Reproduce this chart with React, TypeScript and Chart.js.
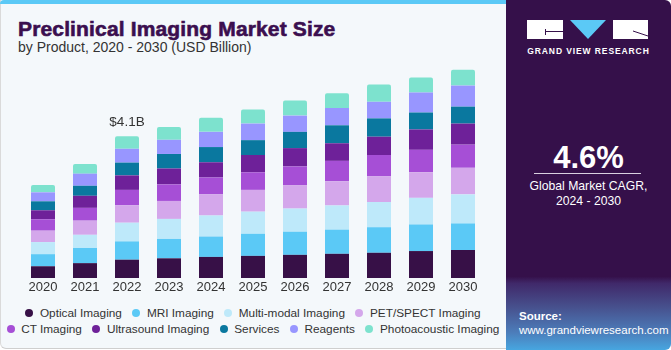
import React, { useEffect, useRef } from "react";
import { Chart, registerables } from "chart.js";

Chart.register(...registerables);

const years = ["2020", "2021", "2022", "2023", "2024", "2025", "2026", "2027", "2028", "2029", "2030"];

const seriesNames = [
  "Optical Imaging",
  "MRI Imaging",
  "Multi-modal Imaging",
  "PET/SPECT Imaging",
  "CT Imaging",
  "Ultrasound Imaging",
  "Services",
  "Reagents",
  "Photoacoustic Imaging",
];

const opticalImaging = [0.34, 0.43, 0.53, 0.57, 0.61, 0.64, 0.67, 0.70, 0.73, 0.78, 0.81];
const mriImaging = [0.35, 0.44, 0.53, 0.56, 0.59, 0.64, 0.67, 0.70, 0.74, 0.77, 0.77];
const multiModalImaging = [0.35, 0.38, 0.54, 0.58, 0.61, 0.64, 0.67, 0.70, 0.73, 0.77, 0.84];
const petSpectImaging = [0.33, 0.41, 0.51, 0.52, 0.61, 0.63, 0.67, 0.70, 0.75, 0.74, 0.77];
const ctImaging = [0.33, 0.37, 0.44, 0.48, 0.49, 0.51, 0.55, 0.59, 0.61, 0.65, 0.67];
const ultrasoundImaging = [0.26, 0.35, 0.42, 0.46, 0.44, 0.50, 0.53, 0.51, 0.53, 0.59, 0.61];
const services = [0.26, 0.29, 0.37, 0.42, 0.44, 0.43, 0.47, 0.52, 0.53, 0.49, 0.49];
const reagents = [0.26, 0.35, 0.40, 0.41, 0.44, 0.48, 0.47, 0.50, 0.48, 0.58, 0.61];
const photoacousticImaging = [0.21, 0.28, 0.36, 0.37, 0.41, 0.41, 0.44, 0.43, 0.50, 0.43, 0.46];

const seriesValues = [
  opticalImaging,
  mriImaging,
  multiModalImaging,
  petSpectImaging,
  ctImaging,
  ultrasoundImaging,
  services,
  reagents,
  photoacousticImaging,
];

const seriesColors = [
  "#371047",
  "#5BC9F6",
  "#BEE9FA",
  "#D4A7EB",
  "#A64FD6",
  "#6E2199",
  "#0A789F",
  "#9896FF",
  "#7DE2CE",
];

const annotatedYear = "2022";
const annotatedLabel = "$4.1B";

const FONT = '"Liberation Sans", Arial, sans-serif';

const totalLabelPlugin = {
  id: "totalLabel",
  afterDatasetsDraw(chart: any) {
    const idx = chart.data.labels.indexOf(annotatedYear);
    if (idx < 0) return;
    let total = 0;
    chart.data.datasets.forEach((ds: any) => (total += ds.data[idx]));
    const x = chart.scales.x.getPixelForValue(idx);
    const y = chart.scales.y.getPixelForValue(total);
    const ctx = chart.ctx;
    ctx.save();
    ctx.font = `13.5px ${FONT}`;
    ctx.fillStyle = "#333333";
    ctx.textAlign = "center";
    ctx.textBaseline = "middle";
    ctx.fillText(annotatedLabel, x, y - 14);
    ctx.restore();
  },
};

function Logo() {
  return (
    <svg width="122" height="20" viewBox="0 0 122 20" style={{ display: "block" }}>
      <rect x="0" y="0" width="36" height="19" fill="#ffffff" />
      <line x1="18" y1="11.5" x2="36" y2="11.5" stroke="#35104A" strokeWidth="1" />
      <line x1="18.5" y1="9" x2="18.5" y2="15" stroke="#35104A" strokeWidth="1" />
      <polygon points="43,0 79,0 61,19" fill="#5BC9F6" />
      <rect x="86" y="0" width="35" height="19" fill="#ffffff" />
      <line x1="106" y1="11" x2="121" y2="16" stroke="#35104A" strokeWidth="1" />
    </svg>
  );
}

export default function App() {
  const canvasRef = useRef<HTMLCanvasElement | null>(null);

  useEffect(() => {
    if (!canvasRef.current) return;
    const chart = new Chart(canvasRef.current, {
      type: "bar",
      data: {
        labels: years,
        datasets: seriesNames.map((name, i) => ({
          label: name,
          data: seriesValues[i],
          backgroundColor: seriesColors[i],
          borderWidth: 0,
          borderRadius: 2,
          barPercentage: 0.8,
          categoryPercentage: 0.714,
        })),
      },
      options: {
        responsive: false,
        animation: false,
        layout: { padding: { left: 22, right: 22, top: 60, bottom: 0 } },
        plugins: {
          legend: { display: false },
          tooltip: { enabled: false },
        },
        scales: {
          x: {
            stacked: true,
            grid: { display: false, drawTicks: false },
            border: { display: false },
            ticks: {
              color: "#333333",
              font: { family: FONT, size: 13 },
              padding: 2,
            },
            afterFit: (scale: any) => {
              scale.height = 22;
            },
          },
          y: {
            stacked: true,
            display: false,
            min: 0,
            max: 6.31,
          },
        },
      },
      plugins: [totalLabelPlugin],
    });
    return () => chart.destroy();
  }, []);

  const legendRows = [
    [0, 1, 2, 3],
    [4, 5, 6, 7, 8],
  ];

  return (
    <div
      style={{
        position: "fixed",
        left: 0,
        top: 0,
        width: 671,
        height: 350,
        overflow: "hidden",
        fontFamily: FONT,
        background: "#ffffff",
      }}
    >
      <div
        style={{
          position: "absolute",
          left: 0,
          top: 0,
          width: 506,
          height: 349,
          background: "#F4F8FB",
          borderBottom: "1px solid #CFCFCF",
          borderLeft: "1px solid #DADADA",
          borderBottomLeftRadius: 6,
          boxSizing: "border-box",
        }}
      />
      <div
        style={{
          position: "absolute",
          left: 0,
          top: 0,
          width: 506,
          height: 4,
          background: "#5BC9F6",
          borderTopLeftRadius: 4,
        }}
      />
      <div
        style={{
          position: "absolute",
          left: 18,
          top: 17,
          fontSize: 21,
          fontWeight: 700,
          color: "#3B0F4F",
          whiteSpace: "nowrap",
          WebkitTextStroke: "0.6px #3B0F4F",
          letterSpacing: 0.15,
          lineHeight: "24px",
        }}
      >
        Preclinical Imaging Market Size
      </div>
      <div
        style={{
          position: "absolute",
          left: 18,
          top: 39,
          fontSize: 14,
          color: "#333333",
          whiteSpace: "nowrap",
          lineHeight: "16px",
        }}
      >
        by Product, 2020 - 2030 (USD Billion)
      </div>

      <canvas
        ref={canvasRef}
        width={506}
        height={300}
        style={{ position: "absolute", left: 0, top: 0, width: 506, height: 300 }}
      />

      {legendRows.map((row, r) => (
        <div
          key={r}
          style={{
            position: "absolute",
            left: 0,
            width: 506,
            top: r === 0 ? 305 : 321,
            height: 16,
            display: "flex",
            justifyContent: "center",
            alignItems: "center",
            fontSize: 11.8,
            color: "#333333",
            whiteSpace: "nowrap",
          }}
        >
          {row.map((i, k) => (
            <div
              key={i}
              style={{ display: "flex", alignItems: "center", marginLeft: k === 0 ? 0 : 10.5 }}
            >
              <span
                style={{
                  width: 8,
                  height: 8,
                  borderRadius: 4,
                  background: seriesColors[i],
                  display: "inline-block",
                  marginRight: 6.5,
                }}
              />
              <span>{seriesNames[i]}</span>
            </div>
          ))}
        </div>
      ))}

      <div
        style={{
          position: "absolute",
          left: 506,
          top: 0,
          width: 165,
          height: 350,
          background:
            "linear-gradient(to bottom, #35104A 0%, #35104A 79%, #40296A 81%, #47528F 88%, #4C7DBA 95%, #47A6E0 100%)",
          borderTopRightRadius: 6,
          borderBottomRightRadius: 6,
        }}
      />
      <div style={{ position: "absolute", left: 527, top: 20 }}>
        <Logo />
      </div>
      <div
        style={{
          position: "absolute",
          left: 506,
          width: 165,
          top: 45,
          textAlign: "center",
          fontSize: 8.5,
          fontWeight: 700,
          color: "#ffffff",
          letterSpacing: 0.9,
          lineHeight: "12px",
          whiteSpace: "nowrap",
        }}
      >
        GRAND VIEW RESEARCH
      </div>
      <div
        style={{
          position: "absolute",
          left: 506,
          width: 165,
          top: 140,
          textAlign: "center",
          fontSize: 31,
          fontWeight: 700,
          color: "#ffffff",
          lineHeight: "36px",
        }}
      >
        4.6%
      </div>
      <div
        style={{
          position: "absolute",
          left: 534,
          top: 173,
          width: 107,
          height: 1,
          background: "#D9D0E0",
        }}
      />
      <div
        style={{
          position: "absolute",
          left: 506,
          width: 165,
          top: 179,
          textAlign: "center",
          fontSize: 12.2,
          color: "#ffffff",
          lineHeight: "15px",
          whiteSpace: "nowrap",
        }}
      >
        Global Market CAGR,
        <br />
        2024 - 2030
      </div>
      <div
        style={{
          position: "absolute",
          left: 519,
          top: 309,
          fontSize: 11.5,
          color: "#ffffff",
          lineHeight: "14px",
          whiteSpace: "nowrap",
        }}
      >
        <div style={{ fontWeight: 700 }}>Source:</div>
        <div>www.grandviewresearch.com</div>
      </div>
    </div>
  );
}
